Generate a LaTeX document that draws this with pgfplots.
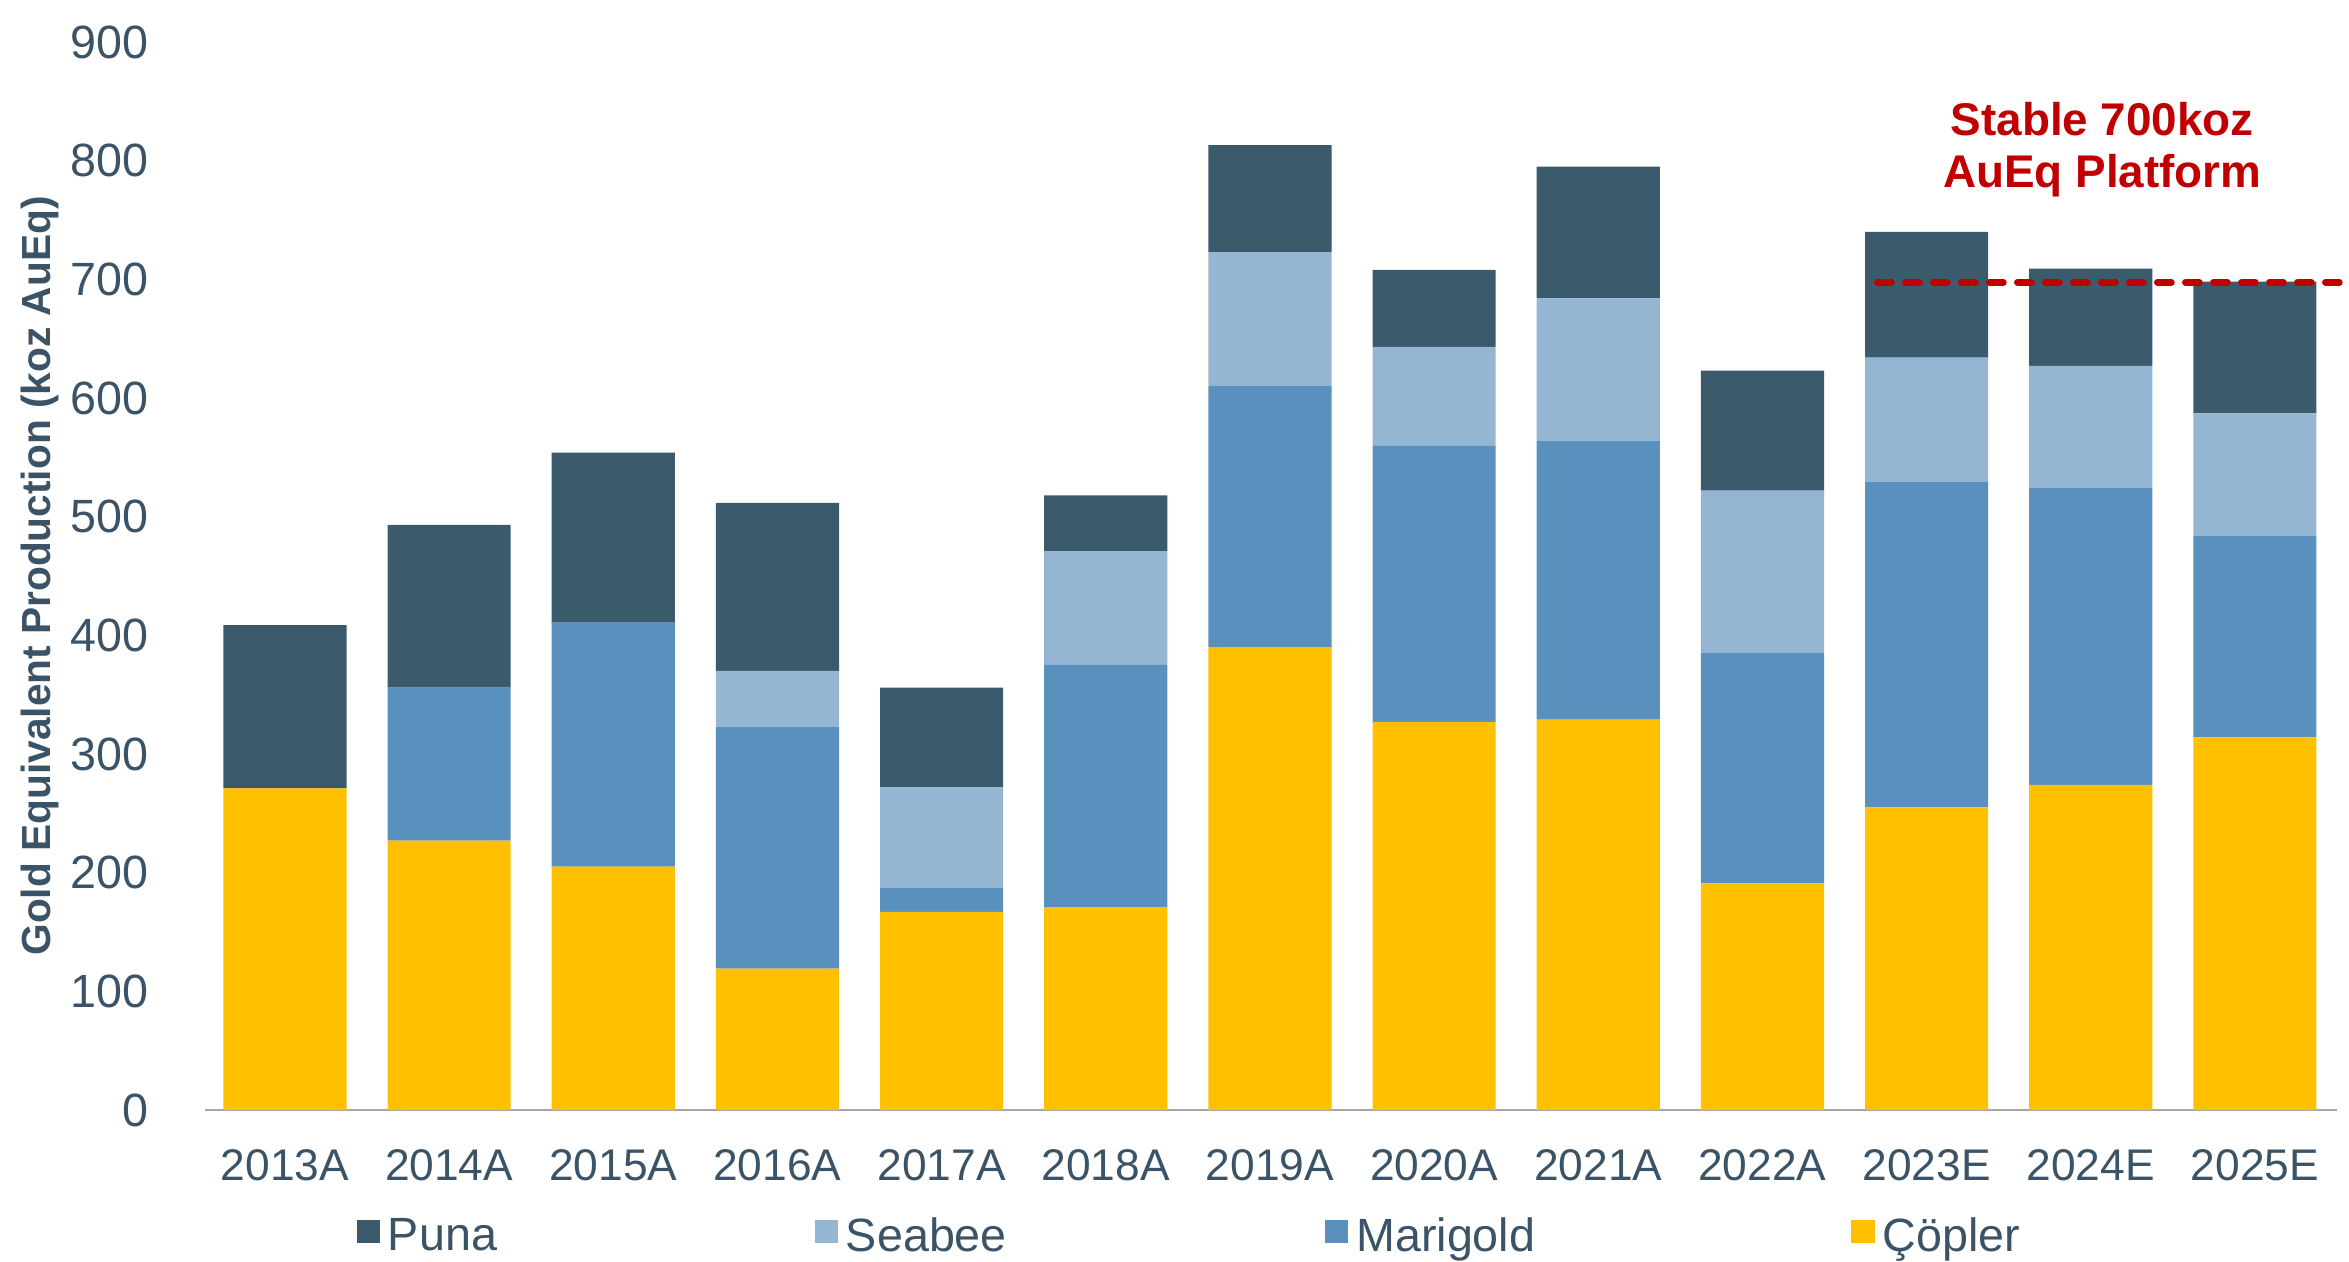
\documentclass[border=0pt]{standalone}
\usepackage{fontspec}
\setmainfont{Liberation Sans}
\usepackage{pgfplots}
\usepackage{pgfplotstable}
\pgfplotsset{compat=1.18}
\definecolor{puna}{HTML}{3B5A6B}
\definecolor{seabee}{HTML}{94B6D3}
\definecolor{marigold}{HTML}{5A90BE}
\definecolor{copler}{HTML}{FFC000}
\definecolor{txt}{HTML}{3B5366}
\definecolor{redann}{HTML}{C00000}
\definecolor{axgray}{HTML}{A6A6A6}
\pgfplotstableread{
x C M S P
0 271 0 0 137.5
1 227 129 0 137
2 205 206 0 143
3 119 204 47 141.5
4 167 20 85 84
5 171 204 96 47
6 390 220 113 90
7 327 233 83 65
8 329 235 120 111
9 191 194 137 101
10 255 274 105 106
11 274 250 103 82
12 314 170 103 111
}\prod
\begin{document}
\begin{tikzpicture}
\begin{axis}[
  width=639.6pt, height=320.4pt, scale only axis,
  xmin=-0.487, xmax=12.5, ymin=0, ymax=900,
  ybar stacked, bar width=0.75,
  xtick={0,...,12},
  xticklabels={2013A,2014A,2015A,2016A,2017A,2018A,2019A,2020A,2021A,2022A,2023E,2024E,2025E},
  ytick={0,100,...,900},
  axis x line*=bottom, axis y line*=left,
  axis line style={-},
  y axis line style={draw=none},
  x axis line style={draw=axgray, line width=0.7pt},
  tick style={draw=none},
  /pgf/number format/assume math mode=true,
  ticklabel style={color=txt, font=\fontsize{14}{16.8}\selectfont},
  yticklabel style={anchor=east, inner sep=0pt, xshift=-16.8pt},
  xticklabel style={anchor=north, inner sep=0pt, yshift=-11.8pt, font=\fontsize{13.3}{16}\selectfont},
  ylabel={Gold Equivalent Production (koz AuEq)},
  every axis y label/.style={at={([xshift=-49.5pt]axis description cs:0,0.5)}, rotate=90, anchor=center, color=txt, font=\bfseries\fontsize{12.2}{14}\selectfont},
  legend columns=4,
  legend cell align=left,
  legend style={at={(axis description cs:0,0)}, anchor=west, xshift=45.5pt, yshift=-38.1pt,
    draw=none, fill=none, inner sep=0pt, outer sep=0pt, column sep=0pt,
    font=\fontsize{14}{16.8}\selectfont, text=txt,
    /tikz/every odd column/.append style={column sep=2.4pt},
    nodes={inner sep=0pt}},
]
\addplot[fill=copler, draw=none, forget plot] table[x=x, y=C] {\prod};
\addplot[fill=marigold, draw=none, forget plot] table[x=x, y=M] {\prod};
\addplot[fill=seabee, draw=none, forget plot] table[x=x, y=S] {\prod};
\addplot[fill=puna, draw=none, forget plot] table[x=x, y=P] {\prod};
\addlegendimage{legend image code/.code={\fill[puna] (0pt,-1.75pt) rectangle (6.6pt,4.85pt);}}
\addlegendentry{\makebox[128pt][l]{\vphantom{Çp}Puna}}
\addlegendimage{legend image code/.code={\fill[seabee] (0pt,-1.75pt) rectangle (6.6pt,4.85pt);}}
\addlegendentry{\makebox[143.7pt][l]{\vphantom{Çp}Seabee}}
\addlegendimage{legend image code/.code={\fill[marigold] (0pt,-1.75pt) rectangle (6.6pt,4.85pt);}}
\addlegendentry{\makebox[148.5pt][l]{\vphantom{Çp}Marigold}}
\addlegendimage{legend image code/.code={\fill[copler] (0pt,-1.75pt) rectangle (6.6pt,4.85pt);}}
\addlegendentry{\makebox[60pt][l]{\vphantom{Çp}Çöpler}}
\end{axis}
\begin{axis}[
  width=639.6pt, height=320.4pt, scale only axis,
  xmin=-0.487, xmax=12.5, ymin=0, ymax=900,
  hide axis, clip=false,
]
\addplot[redann, line width=2pt, line cap=round, dash pattern=on 4.2pt off 4.2pt, mark=none] coordinates {(9.70,697.5) (12.52,697.5)};
\node[font=\bfseries\fontsize{13.75}{16}\selectfont, text=redann, anchor=base] at (axis cs:11.07,821.4) {Stable 700koz};
\node[font=\bfseries\fontsize{13.75}{16}\selectfont, text=redann, anchor=base] at (axis cs:11.07,777.4) {AuEq Platform};
\end{axis}
\pgfresetboundingbox
\path ([xshift=-61.5pt,yshift=-45.6pt]current axis.south west) rectangle ([xshift=3.6pt,yshift=12.6pt]current axis.north east);
\end{tikzpicture}
\end{document}
